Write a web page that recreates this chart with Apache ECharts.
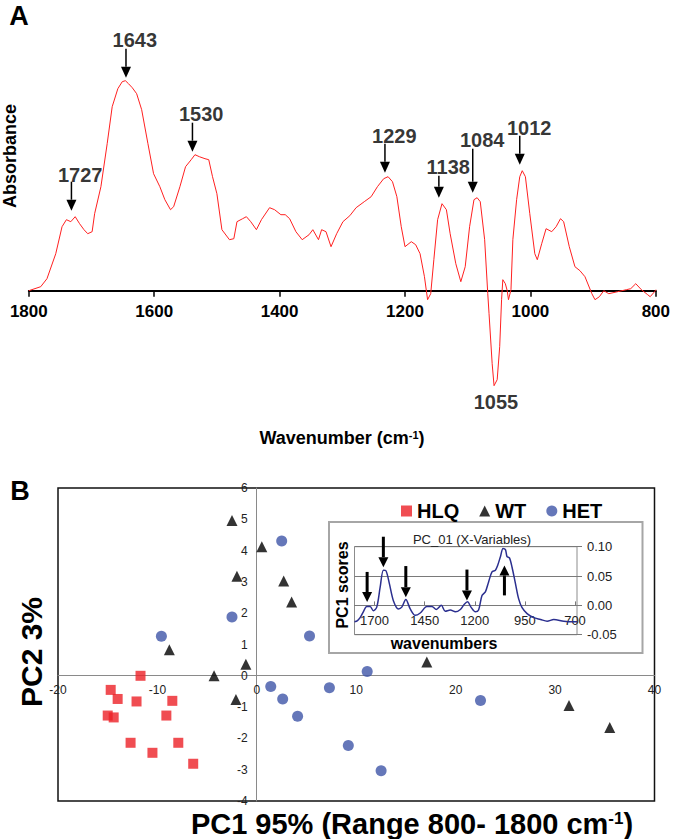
<!DOCTYPE html>
<html><head><meta charset="utf-8">
<script src="https://cdn.jsdelivr.net/npm/echarts@6/dist/echarts.min.js"></script>
<style>html,body{margin:0;padding:0;background:#fff}#c{width:673px;height:839px}</style>
</head><body><div id="c"></div>
<script>
// ---------- Panel A: FTIR difference spectrum ----------
const absorbanceSpectrum = [
 [1800,0],[1781,4],[1771,12],[1757,37],[1747,64],[1740,71],[1733,69],[1726,74],[1719,67],[1712,61],
 [1706,57],[1699,59],[1695,77],[1685,104],[1675,147],[1667,184],[1658,202],[1651,209],[1646,210],[1641,207],
 [1635,203],[1628,197],[1620,181],[1610,147],[1601,117],[1591,104],[1583,91],[1574,81],[1569,84],[1559,104],
 [1550,124],[1541,131],[1535,136],[1528,134],[1519,132],[1513,131],[1507,114],[1500,97],[1492,61],[1480,51],
 [1473,52],[1468,69],[1459,72],[1453,74],[1446,69],[1437,61],[1429,71],[1416,83],[1408,81],[1398,76],
 [1391,76],[1384,72],[1374,59],[1364,51],[1353,56],[1347,61],[1338,51],[1333,61],[1326,59],[1318,44],
 [1309,57],[1299,69],[1288,75],[1278,83],[1265,89],[1254,94],[1244,104],[1234,112],[1227,114],[1220,109],
 [1213,94],[1206,64],[1200,44],[1190,49],[1183,46],[1176,37],[1169,14],[1164,-9],[1159,-3],[1154,31],
 [1148,71],[1141,87],[1134,81],[1128,57],[1119,27],[1111,9],[1104,24],[1097,64],[1090,91],[1085,93],
 [1080,89],[1073,51],[1068,-3],[1066,-23],[1061,-73],[1058,-95],[1053,-89],[1049,-56],[1046,-9],[1044,11],
 [1040,7],[1037,0],[1035,-9],[1031,1],[1028,51],[1022,91],[1017,114],[1013,120],[1008,114],[1001,77],
 [993,37],[989,31],[982,47],[975,62],[966,59],[959,64],[952,72],[947,69],[938,44],[929,24],
 [921,20],[913,14],[902,-3],[897,-9],[890,-6],[883,0],[875,-3],[861,-1],[847,1],[840,2],
 [832,7],[823,1],[813,-4],[809,-6],[802,-1],[800,1]
];
const peakLabels   = ['1727','1643','1530','1229','1138','1084','1012','1055'];
const peakLabelWn  = [1718, 1631, 1525, 1217, 1131, 1077, 1002, 1055];
const peakLabelAbs = [116, 251, 177, 155, 124, 151, 163, -111];
const arrowWn      = [1732, 1645, 1539, 1232, 1146, 1092, 1017];
const arrowFrom    = [109, 242, 168, 147, 115, 142, 155];
const arrowTo      = [80, 213, 139, 118, 93, 98, 126];

// ---------- Panel B: PCA scores ----------
const hlqPC1 = [-11.7,-14.7,-14.0,-12.1,-8.5,-15.0,-14.4,-9.1,-12.7,-10.5,-7.9,-6.4];
const hlqPC2 = [0.0,-0.45,-0.74,-0.82,-0.80,-1.27,-1.33,-1.27,-2.14,-2.46,-2.14,-2.81];
const wtPC1  = [-2.5,0.5,-2.0,2.7,3.5,-8.8,-4.3,-1.1,-2.1,17.1,31.4,35.5];
const wtPC2  = [4.96,4.12,3.18,3.03,2.36,0.83,0.0,0.37,-0.76,0.44,-0.95,-1.65];
const hetPC1 = [2.5,-2.5,5.3,-9.6,11.1,1.4,2.6,4.1,7.3,9.2,12.5,22.5];
const hetPC2 = [4.31,1.88,1.27,1.26,0.14,-0.34,-0.74,-1.29,-0.38,-2.23,-3.03,-0.79];

// ---------- Inset: PC1 loadings ----------
const insetWn = [1800,1785,1772,1756,1739,1722,1706,1689,1672,1656,1643,1626,1606,1581,1564,1544,1522,1497,1472,1439,
 1414,1392,1367,1347,1322,1297,1272,1252,1236,1219,1197,1181,1164,1147,1131,1114,1097,1086,1072,1059,
 1047,1039,1027,1014,997,981,964,939,906,872,839,806,756,706,690];
const insetScore = [-0.028,-0.026,-0.021,-0.011,-0.002,-0.002,-0.009,-0.003,0.031,0.060,0.059,0.037,0.008,-0.006,-0.003,0.010,-0.006,-0.017,-0.013,-0.002,
 -0.002,-0.007,0.000,-0.010,-0.008,-0.011,-0.007,0.002,0.006,-0.003,-0.011,-0.008,0.017,0.023,0.040,0.057,0.060,0.068,0.083,0.097,
 0.095,0.083,0.081,0.065,0.037,0.011,-0.004,-0.014,-0.021,-0.024,-0.027,-0.024,-0.027,-0.028,-0.028];
const insetTicks = [1700, 1450, 1200, 950, 700];
const insetArrowWn   = [1737, 1656, 1544, 1239, 1052];
const insetArrowFrom = [0.057, 0.117, 0.067, 0.061, 0.017];
const insetArrowTo   = [0.0056, 0.065, 0.014, 0.0085, 0.068];

const FONT = 'Liberation Sans, Arial, Helvetica, sans-serif';
const plain = v => String(v);

function arrowRenderer(headLen, headHalf, lw) {
  return function (params, api) {
    const p0 = api.coord([api.value(0), api.value(1)]);
    const p1 = api.coord([api.value(0), api.value(2)]);
    const dir = p1[1] > p0[1] ? 1 : -1;
    const baseY = p1[1] - dir * headLen;
    return {type: 'group', children: [
      {type: 'line', shape: {x1: p0[0], y1: p0[1], x2: p1[0], y2: baseY}, style: {stroke: '#000', lineWidth: lw}},
      {type: 'polygon', shape: {points: [[p1[0] - headHalf, baseY], [p1[0] + headHalf, baseY], [p1[0], p1[1]]]}, style: {fill: '#000'}}
    ]};
  };
}
const zip = (a, b) => a.map((v, i) => [v, b[i]]);

const chart = echarts.init(document.getElementById('c'), null, {renderer: 'svg'});
chart.setOption({
  animation: false,
  backgroundColor: '#fff',
  textStyle: {fontFamily: FONT},
  legend: {
    data: ['HLQ', 'WT', 'HET'], left: 396, top: 496, itemWidth: 11, itemHeight: 11, itemGap: 20,
    selectedMode: false,
    textStyle: {fontSize: 20, fontWeight: 'bold', color: '#000', fontFamily: FONT}
  },
  grid: [
    {left: 28.8, right: 16.3, top: 30.7, bottom: 428.3},
    {left: 58, right: 18.5, top: 488, bottom: 38, show: true, borderColor: '#111', borderWidth: 1.5},
    {left: 354.5, right: 96, top: 546.7, bottom: 204.3, show: true, borderColor: '#8c8c8c', borderWidth: 1, z: 5}
  ],
  xAxis: [
    {gridIndex: 0, type: 'value', min: 800, max: 1800, interval: 200, inverse: true, offset: -120,
     axisLine: {onZero: false, lineStyle: {color: '#000', width: 2}},
     axisTick: {length: 6, lineStyle: {color: '#000', width: 1.5}},
     axisLabel: {formatter: plain, fontSize: 17, fontWeight: 'bold', color: '#000', fontFamily: FONT, margin: 12},
     splitLine: {show: false}},
    {gridIndex: 1, type: 'value', min: -20, max: 40, interval: 10, offset: -125.7,
     axisLine: {onZero: false, lineStyle: {color: '#8a8a8a', width: 1}},
     axisTick: {show: false},
     axisLabel: {formatter: plain, fontSize: 12, color: '#222', margin: 9, fontFamily: FONT},
     splitLine: {show: false}},
    {gridIndex: 2, type: 'value', min: 690, max: 1800, inverse: true, z: 6, offset: -29.3,
     axisLine: {onZero: false, lineStyle: {color: '#7a7a7a', width: 1}},
     axisTick: {show: true, inside: true, length: 4, customValues: insetTicks, lineStyle: {color: '#7a7a7a'}},
     axisLabel: {customValues: insetTicks, formatter: plain, fontSize: 13, color: '#222', margin: 9, fontFamily: FONT},
     splitLine: {show: false}}
  ],
  yAxis: [
    {gridIndex: 0, type: 'value', min: -120, max: 260, show: false},
    {gridIndex: 1, type: 'value', min: -4, max: 6, interval: 1, offset: -198.7,
     axisLine: {onZero: false, lineStyle: {color: '#8a8a8a', width: 1}},
     axisTick: {show: false},
     axisLabel: {formatter: plain, fontSize: 12, color: '#222', margin: 9, fontFamily: FONT},
     splitLine: {show: false}},
    {gridIndex: 2, type: 'value', position: 'right', min: -0.05, max: 0.10, interval: 0.05, z: 6,
     axisLine: {show: false, onZero: false},
     axisTick: {show: true, length: 5, lineStyle: {color: '#7a7a7a'}},
     axisLabel: {formatter: v => v.toFixed(2), fontSize: 13, color: '#222', margin: 10, fontFamily: FONT},
     splitLine: {show: true, lineStyle: {color: '#7a7a7a', width: 1}}}
  ],
  series: [
    {name: 'spectrum', type: 'line', xAxisIndex: 0, yAxisIndex: 0, data: absorbanceSpectrum,
     symbol: 'none', silent: true, lineStyle: {color: '#ff2020', width: 1}},
    {name: 'peakArrows', type: 'custom', xAxisIndex: 0, yAxisIndex: 0, silent: true,
     data: arrowWn.map((w, i) => [w, arrowFrom[i], arrowTo[i]]),
     encode: {x: 0, y: [1, 2]}, renderItem: arrowRenderer(11, 5, 1.5)},
    {name: 'peakLabels', type: 'scatter', xAxisIndex: 0, yAxisIndex: 0, symbolSize: 0, silent: true,
     data: peakLabelWn.map((w, i) => ({value: [w, peakLabelAbs[i]], name: peakLabels[i]})),
     label: {show: true, position: 'inside', formatter: '{b}', fontSize: 20, fontWeight: 'bold', color: '#000', fontFamily: FONT}},
    {name: 'HLQ', type: 'scatter', xAxisIndex: 1, yAxisIndex: 1, symbol: 'rect', symbolSize: 10,
     itemStyle: {color: '#ec2027'}, data: zip(hlqPC1, hlqPC2)},
    {name: 'WT', type: 'scatter', xAxisIndex: 1, yAxisIndex: 1, symbol: 'triangle', symbolSize: 11,
     itemStyle: {color: '#000'}, data: zip(wtPC1, wtPC2)},
    {name: 'HET', type: 'scatter', xAxisIndex: 1, yAxisIndex: 1, symbol: 'circle', symbolSize: 11,
     itemStyle: {color: '#3f55a7'}, data: zip(hetPC1, hetPC2)},
    {name: 'loadings', type: 'line', xAxisIndex: 2, yAxisIndex: 2, z: 7, data: zip(insetWn, insetScore),
     symbol: 'none', smooth: 0.3, silent: true, lineStyle: {color: '#2b2f8f', width: 1.5}},
    {name: 'loadingArrows', type: 'custom', xAxisIndex: 2, yAxisIndex: 2, z: 8, silent: true,
     data: insetArrowWn.map((w, i) => [w, insetArrowFrom[i], insetArrowTo[i]]),
     encode: {x: 0, y: [1, 2]}, renderItem: arrowRenderer(10, 5, 3)}
  ],
  graphic: {elements: [
    {type: 'rect', z: 1, shape: {x: 329, y: 522, width: 313.5, height: 131},
     style: {fill: '#fff', stroke: '#a6a6a6', lineWidth: 2}},
    {type: 'text', x: 19, y: 16, z: 10, style: {text: 'A', fontSize: 27, fontWeight: 'bold', fontFamily: FONT, fill: '#000', align: 'center', verticalAlign: 'middle'}},
    {type: 'text', x: 20, y: 491, z: 10, style: {text: 'B', fontSize: 27, fontWeight: 'bold', fontFamily: FONT, fill: '#000', align: 'center', verticalAlign: 'middle'}},
    {type: 'text', x: 10, y: 156, z: 10, rotation: Math.PI / 2, style: {text: 'Absorbance', fontSize: 18, fontWeight: 'bold', fontFamily: FONT, fill: '#000', align: 'center', verticalAlign: 'middle'}},
    {type: 'text', x: 342, y: 438, z: 10, style: {text: '{t|Wavenumber (cm}{s|-1}{t|)}', align: 'center', verticalAlign: 'middle',
      rich: {t: {fontSize: 18, fontWeight: 'bold', fontFamily: FONT, fill: '#000'}, s: {fontSize: 11, fontWeight: 'bold', fontFamily: FONT, fill: '#000', verticalAlign: 'top'}}}},
    {type: 'text', x: 31, y: 652, z: 10, rotation: Math.PI / 2, style: {text: 'PC2 3%', fontSize: 30, fontWeight: 'bold', fontFamily: FONT, fill: '#000', align: 'center', verticalAlign: 'middle'}},
    {type: 'text', x: 412, y: 824, z: 10, style: {text: '{t|PC1 95% (Range 800- 1800 cm}{s|-1}{t|)}', align: 'center', verticalAlign: 'middle',
      rich: {t: {fontSize: 29, fontWeight: 'bold', fontFamily: FONT, fill: '#000'}, s: {fontSize: 17, fontWeight: 'bold', fontFamily: FONT, fill: '#000', verticalAlign: 'top'}}}},
    {type: 'text', x: 472, y: 539.5, z: 10, style: {text: 'PC_01 (X-Variables)', fontSize: 13, fontFamily: FONT, fill: '#222', align: 'center', verticalAlign: 'middle'}},
    {type: 'text', x: 342, y: 585, z: 10, rotation: Math.PI / 2, style: {text: 'PC1 scores', fontSize: 16, fontWeight: 'bold', fontFamily: FONT, fill: '#000', align: 'center', verticalAlign: 'middle'}},
    {type: 'text', x: 444, y: 643, z: 10, style: {text: 'wavenumbers', fontSize: 16, fontWeight: 'bold', fontFamily: FONT, fill: '#000', align: 'center', verticalAlign: 'middle'}}
  ]}
});
</script></body></html>
